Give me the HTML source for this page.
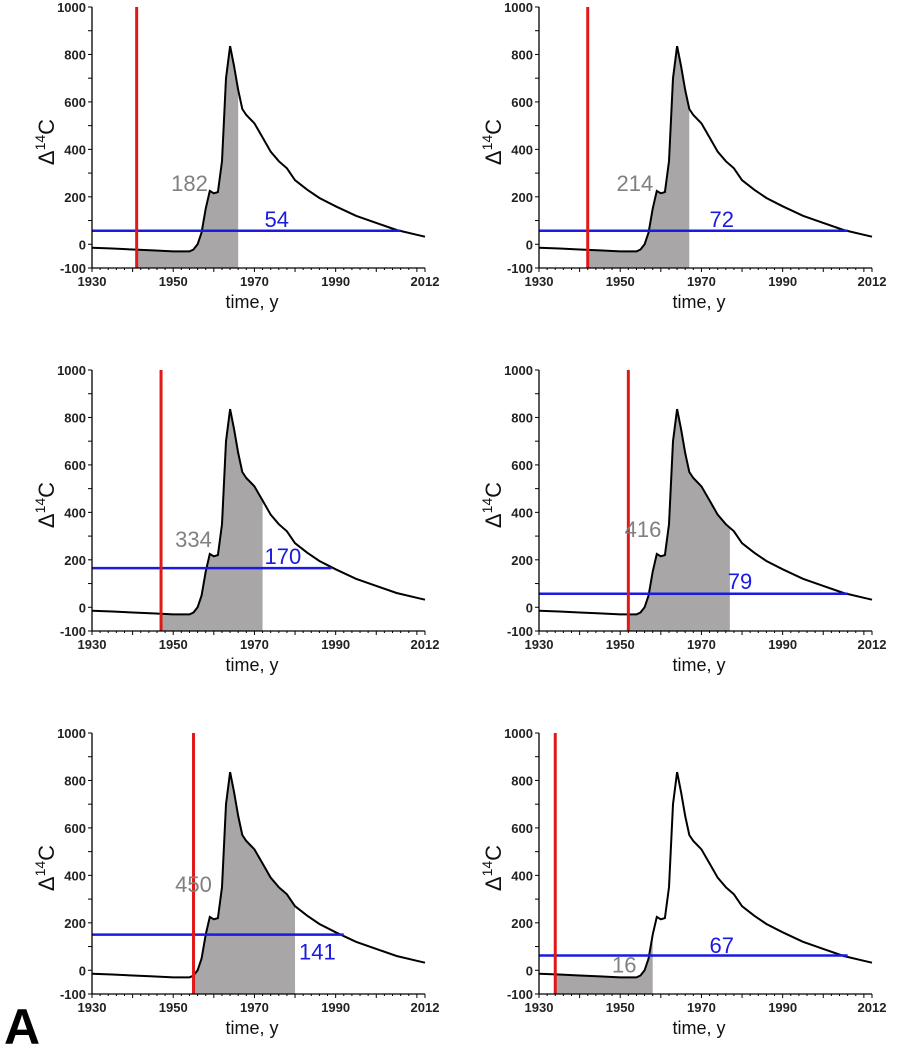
<!DOCTYPE html>
<html><head><meta charset="utf-8">
<style>
html,body{margin:0;padding:0;background:#fff;}
svg{display:block;font-family:"Liberation Sans",Arial,sans-serif;}
</style></head>
<body>
<svg id="fig" width="902" height="1050" viewBox="0 0 902 1050">
<text x="4" y="1044" font-size="50" font-weight="bold">A</text>
</svg>
<script>
// shared atmospheric Δ14C curve
const years = [1930,1935,1940,1945,1950,1954,1955,1956,1957,1958,1959,1960,1961,1962,1963,1964,1965,1966,1967,1968,1970,1972,1974,1976,1978,1980,1983,1986,1990,1995,2000,2005,2010,2012];
const d14c  = [-15,-18,-22,-26,-30,-30,-22,0,50,150,225,215,220,350,700,835,750,650,570,545,510,450,390,350,320,270,230,195,160,120,90,60,40,32];
const yTicks = [-100,0,200,400,600,800,1000];
const xTicks = [1930,1950,1970,1990,2012];
// per-panel values
const redYears   = [1941,1942,1947,1952,1955,1934];
const shadeEnds  = [1966,1967,1972,1977,1980,1958];
const blueLevels = [57,57,165,57,150,62];
const blueEnds   = [2006,2006,1989,2006,1992,2006];
const grayLabels = ["182","214","334","416","450","16"];
const grayX      = [1954,1953.6,1955,1955.6,1955,1951];
const grayY      = [258,258,288,330,364,25];
const blueLabels = ["54","72","170","79","141","67"];
const blueX      = [1975.5,1975,1977,1979.5,1985.5,1975];
const blueY      = [106,106,216,110,80,106];

const NS="http://www.w3.org/2000/svg";
const svg=document.getElementById('fig');
function mk(tag,attrs,parent){const e=document.createElementNS(NS,tag);for(const k in attrs)e.setAttribute(k,attrs[k]);(parent||svg).appendChild(e);return e;}

const originsX=[92,539,92,539,92,539];
const originsY=[7,7,370,370,733,733];
const W=333,H=261;

function interp(yr){
  for(let i=0;i<years.length-1;i++){if(yr>=years[i]&&yr<=years[i+1]){const t=(yr-years[i])/(years[i+1]-years[i]);return d14c[i]+t*(d14c[i+1]-d14c[i]);}}
  return d14c[d14c.length-1];
}

for(let p=0;p<6;p++){
  const ox=originsX[p], oy=originsY[p];
  const g=mk('g',{});
  
  
  const sx=v=>ox+(v-1930)/(2012-1930)*W;
  const sy=v=>oy+(1000-v)/1100*H;
  let pts=[[redYears[p],interp(redYears[p])]];
  years.forEach((y,i)=>{if(y>redYears[p]&&y<shadeEnds[p])pts.push([y,d14c[i]]);});
  pts.push([shadeEnds[p],interp(shadeEnds[p])]);
  let d='M'+sx(redYears[p])+','+sy(-100);
  pts.forEach(q=>{d+=' L'+sx(q[0]).toFixed(1)+','+sy(q[1]).toFixed(1);});
  d+=' L'+sx(shadeEnds[p])+','+sy(-100)+' Z';
  const area=mk('path',{d:d,fill:'#a8a6a6'},g);
  
  
  const cd=years.map((y,i)=>(i?'L':'M')+sx(y).toFixed(1)+','+sy(d14c[i]).toFixed(1)).join(' ');
  const curve=mk('path',{d:cd,fill:'none',stroke:'#000','stroke-width':2},g);
  
  
  const bl=mk('line',{x1:ox,x2:sx(blueEnds[p]),y1:sy(blueLevels[p]),y2:sy(blueLevels[p]),stroke:'#1a1ae0','stroke-width':2.5},g);
  
  
  const rl=mk('line',{x1:sx(redYears[p]),x2:sx(redYears[p]),y1:sy(1000),y2:sy(-100),stroke:'#e01818','stroke-width':3},g);
  
  
  const ax=mk('path',{d:'M'+ox+','+oy+' L'+ox+','+(oy+H)+' L'+(ox+W)+','+(oy+H),fill:'none',stroke:'#000','stroke-width':1.3},g);
  
  
  for(let v=-100;v<=1000;v+=100){mk('line',{x1:ox-4,x2:ox,y1:sy(v),y2:sy(v),stroke:'#000','stroke-width':1},g);}
  for(let v=1930;v<=2012;v+=2){const big=(v-1930)%10===0;mk('line',{x1:sx(v),x2:sx(v),y1:oy+H,y2:oy+H+(big?4:2),stroke:'#000','stroke-width':1},g);}
  mk('line',{x1:sx(2012),x2:sx(2012),y1:oy+H,y2:oy+H+4,stroke:'#000','stroke-width':1},g);
  yTicks.forEach(v=>{const t=mk('text',{x:ox-6,y:sy(v)+5,'font-size':13,'font-weight':'bold','text-anchor':'end',fill:'#222'},g);t.textContent=v;
    
    });
  xTicks.forEach(v=>{const t=mk('text',{x:sx(v),y:oy+H+18,'font-size':13,'font-weight':'bold','text-anchor':'middle',fill:'#222'},g);t.textContent=v;
    
    });
  const xt=mk('text',{x:ox+160,y:oy+H+40,'font-size':18,'text-anchor':'middle',fill:'#111'},g);xt.textContent='time, y';
  
  
  const yt=mk('text',{transform:'translate('+(ox-38)+','+(oy+135)+') rotate(-90)','font-size':22,'text-anchor':'middle',fill:'#111'},g);
  yt.innerHTML='Δ<tspan font-size="14" dy="-9">14</tspan><tspan dy="9">C</tspan>';
  
  
  const gl=mk('text',{x:sx(grayX[p]),y:sy(grayY[p])+8,'font-size':22,'text-anchor':'middle',fill:'#808080'},g);gl.textContent=grayLabels[p];
  
  
  const bt=mk('text',{x:sx(blueX[p]),y:sy(blueY[p])+8,'font-size':22,'text-anchor':'middle',fill:'#1a1ae0'},g);bt.textContent=blueLabels[p];
  
  
}
</script>
</body></html>
